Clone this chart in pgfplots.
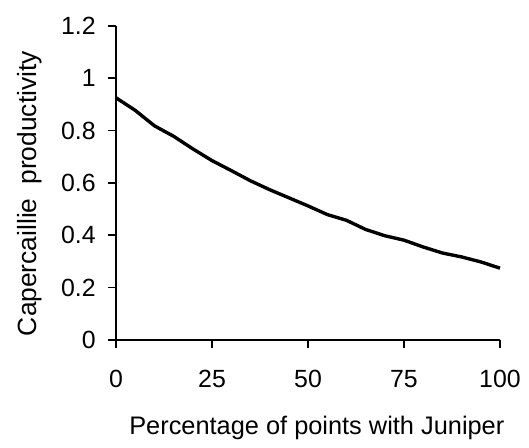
\documentclass[border=0pt]{standalone}
\usepackage{fontspec}
\setmainfont{Liberation Sans}
\usepackage{pgfplots}
\pgfplotsset{compat=1.18}
\begin{document}
\fontsize{25pt}{30pt}\selectfont
\begin{tikzpicture}
\begin{axis}[
  scale only axis,
  width=386pt, height=315.7pt,
  xmin=0, xmax=100, ymin=0, ymax=1.2,
  axis lines=left,
  axis line style={-, line width=1.8pt},
  every tick/.style={line width=1.8pt, black},
  tick align=outside,
  major tick length=8pt,
  xtick={0,25,50,75,100},
  ytick={0,0.2,0.4,0.6,0.8,1,1.2},
  yticklabels={0,0.2,0.4,0.6,0.8,1,1.2},
  /pgf/number format/assume math mode=true,
  tick label style={font=\fontsize{25pt}{30pt}\selectfont},
  xticklabel style={yshift=-14pt},
  yticklabel style={xshift=-4pt},
  xlabel={Percentage of points with Juniper},
  ylabel={Capercaillie\hspace{14pt}productivity},
  xlabel style={font=\fontsize{25.5pt}{30pt}\selectfont, at={(axis description cs:0.523,-0.301)}, anchor=base},
  ylabel style={font=\fontsize{26.5pt}{30pt}\selectfont, at={(axis description cs:-0.206,0.466)}, anchor=base},
  clip=false,
]
\addplot[black, line width=3.4pt, line join=round] coordinates {
(0,0.925) (5,0.877) (10,0.818) (15,0.778) (20,0.730) (25,0.685)
(30,0.647) (35,0.608) (40,0.574) (45,0.543) (50,0.512) (55,0.479)
(60,0.457) (65,0.422) (70,0.398) (75,0.381) (80,0.355) (85,0.332)
(90,0.317) (95,0.298) (100,0.274)
};
\path (rel axis cs:-0.3023,-0.3209) rectangle (rel axis cs:1.068,1.0824);
\end{axis}
\end{tikzpicture}
\end{document}
